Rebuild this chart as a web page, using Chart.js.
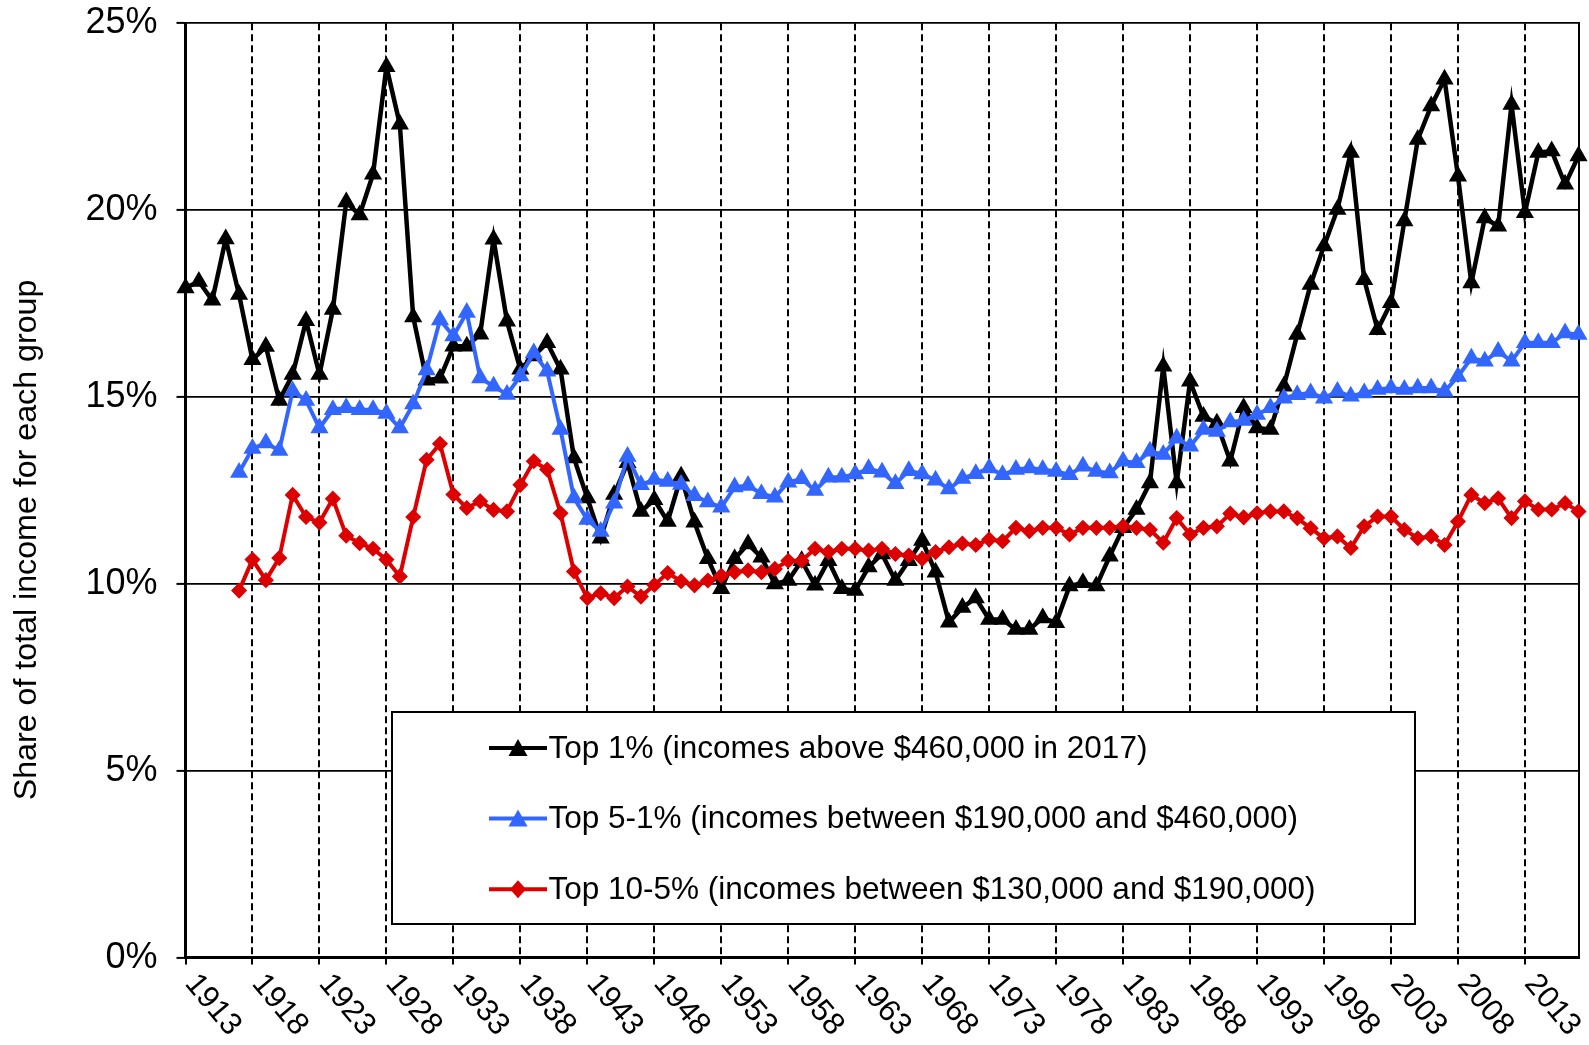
<!DOCTYPE html>
<html>
<head>
<meta charset="utf-8">
<script src="https://cdn.jsdelivr.net/npm/chart.js@4/dist/chart.umd.min.js"></script>
<style>
  html, body { margin: 0; padding: 0; background: #fff; }
  canvas { display: block; }
</style>
</head>
<body>
<canvas id="c" width="1589" height="1045"></canvas>
<script>
// ---------- data ----------
const years = [
  1913,1914,1915,1916,1917,1918,1919,1920,1921,1922,1923,1924,1925,1926,1927,1928,1929,1930,
  1931,1932,1933,1934,1935,1936,1937,1938,1939,1940,1941,1942,1943,1944,1945,1946,1947,1948,
  1949,1950,1951,1952,1953,1954,1955,1956,1957,1958,1959,1960,1961,1962,1963,1964,1965,1966,
  1967,1968,1969,1970,1971,1972,1973,1974,1975,1976,1977,1978,1979,1980,1981,1982,1983,1984,
  1985,1986,1987,1988,1989,1990,1991,1992,1993,1994,1995,1996,1997,1998,1999,2000,2001,2002,
  2003,2004,2005,2006,2007,2008,2009,2010,2011,2012,2013,2014,2015,2016,2017
];

const top1 = [
  17.92,18.09,17.59,19.23,17.74,16.00,16.35,14.91,15.60,17.04,15.60,17.34,20.22,19.87,20.96,23.84,22.30,17.14,
  15.45,15.50,16.36,16.36,16.68,19.22,17.03,15.74,16.10,16.45,15.74,13.37,12.30,11.22,12.39,13.24,11.94,12.25,
  11.67,12.88,11.65,10.67,9.87,10.67,11.07,10.71,10.00,10.09,10.62,9.96,10.62,9.87,9.82,10.45,10.80,10.09,
  10.62,11.16,10.31,8.97,9.37,9.62,9.05,9.05,8.78,8.78,9.09,8.96,9.94,10.03,9.94,10.74,11.50,11.99,
  12.70,15.82,12.70,15.42,14.48,14.30,13.28,14.71,14.17,14.13,15.29,16.67,18.01,19.04,20.02,21.54,18.14,16.80,
  17.52,19.71,21.89,22.79,23.50,20.91,18.05,19.79,19.57,22.83,19.93,21.54,21.58,20.69,21.45
];

const top5to1 = [
  null,null,null,null,12.98,13.62,13.77,13.57,15.16,14.91,14.17,14.66,14.71,14.66,14.66,14.56,14.17,14.81,
  15.72,17.06,16.63,17.26,15.51,15.29,15.07,15.56,16.18,15.69,14.13,12.30,11.72,11.40,12.16,13.41,12.65,12.79,
  12.74,12.66,12.36,12.19,12.05,12.59,12.63,12.41,12.32,12.72,12.81,12.50,12.85,12.85,12.94,13.08,12.99,12.68,
  13.03,12.94,12.77,12.54,12.82,12.95,13.10,12.92,13.06,13.10,13.06,13.01,12.92,13.15,13.01,12.97,13.28,13.24,
  13.55,13.46,13.90,13.68,14.13,14.08,14.33,14.37,14.53,14.71,14.97,15.06,15.11,14.97,15.15,15.02,15.11,15.20,
  15.24,15.20,15.24,15.24,15.15,15.55,16.04,15.96,16.22,15.96,16.45,16.45,16.45,16.71,16.67
];

const top10to5 = [
  null,null,null,null,9.82,10.65,10.10,10.69,12.38,11.79,11.64,12.28,11.29,11.09,10.94,10.65,10.20,11.79,
  13.32,13.75,12.39,12.03,12.21,11.98,11.94,12.65,13.28,13.06,11.89,10.33,9.62,9.75,9.62,9.93,9.66,9.97,
  10.29,10.07,9.96,10.09,10.22,10.31,10.36,10.31,10.40,10.62,10.62,10.94,10.85,10.94,10.94,10.89,10.94,10.80,
  10.76,10.67,10.85,10.98,11.08,11.04,11.19,11.14,11.50,11.41,11.50,11.50,11.32,11.50,11.50,11.50,11.54,11.50,
  11.45,11.10,11.76,11.32,11.50,11.54,11.88,11.78,11.89,11.94,11.94,11.76,11.49,11.22,11.27,10.96,11.54,11.80,
  11.80,11.45,11.22,11.27,11.04,11.67,12.38,12.16,12.29,11.76,12.21,11.99,11.99,12.16,11.94
];

const tickYears = [1913,1918,1923,1928,1933,1938,1943,1948,1953,1958,1963,1968,1973,1978,1983,1988,1993,1998,2003,2008,2013];
const yTicks = [0,5,10,15,20,25];
const seriesLabels = [
  'Top 1% (incomes above $460,000 in 2017)',
  'Top 5-1% (incomes between $190,000 and $460,000)',
  'Top 10-5% (incomes between $130,000 and $190,000)'
];
const yTitle = 'Share of total income for each group';

// ---------- styles ----------
const FONT = '"Liberation Sans", Arial, Helvetica, sans-serif';
const BLACK = '#000000';
const BLUE = '#3366FF';
const RED = '#DD0000';

const overlay = {
  id: 'overlay',
  beforeDraw(chart) {
    const ctx = chart.ctx;
    ctx.save();
    ctx.fillStyle = '#fff';
    ctx.fillRect(0, 0, chart.width, chart.height);
    ctx.restore();
  },
  afterDraw(chart) {
    const {ctx, chartArea, scales} = chart;
    const xs = scales.x;
    ctx.save();
    // rotated x tick labels
    ctx.fillStyle = '#000';
    ctx.font = '31px ' + FONT;
    ctx.textAlign = 'left';
    ctx.textBaseline = 'middle';
    tickYears.forEach(v => {
      const px = xs.getPixelForValue(v);
      ctx.save();
      ctx.translate(px + 5, chartArea.bottom + 21);
      ctx.rotate(50 * Math.PI / 180);
      ctx.fillText(String(v), 0, 0);
      ctx.restore();
    });
    // y axis title
    ctx.save();
    ctx.translate(27, 540);
    ctx.rotate(-Math.PI / 2);
    ctx.textAlign = 'center';
    ctx.textBaseline = 'middle';
    ctx.font = '32.2px ' + FONT;
    ctx.fillText(yTitle, 0, 0);
    ctx.restore();

    // legend box
    const L = 392, T = 712, R = 1415, B = 924;
    ctx.fillStyle = '#fff';
    ctx.fillRect(L, T, R - L, B - T);
    ctx.strokeStyle = '#000';
    ctx.lineWidth = 2;
    ctx.strokeRect(L, T, R - L, B - T);

    chart.data.datasets.forEach((ds, i) => {
      const cy = 748 + i * 70.6;
      ctx.strokeStyle = ds.borderColor;
      ctx.lineWidth = 4;
      ctx.beginPath();
      ctx.moveTo(489, cy);
      ctx.lineTo(547, cy);
      ctx.stroke();
      ctx.fillStyle = ds.backgroundColor;
      ctx.beginPath();
      const mx = 518;
      if (ds.pointStyle === 'triangle') {
        ctx.moveTo(mx, cy - 9);
        ctx.lineTo(mx + 9.5, cy + 8);
        ctx.lineTo(mx - 9.5, cy + 8);
      } else {
        ctx.moveTo(mx, cy - 9);
        ctx.lineTo(mx + 8, cy);
        ctx.lineTo(mx, cy + 9);
        ctx.lineTo(mx - 8, cy);
      }
      ctx.closePath();
      ctx.fill();
      ctx.fillStyle = '#000';
      ctx.font = '31.5px ' + FONT;
      ctx.textAlign = 'left';
      ctx.textBaseline = 'middle';
      ctx.fillText(ds.label, 548.5, cy + 1);
    });
    ctx.restore();
  }
};

new Chart(document.getElementById('c').getContext('2d'), {
  type: 'line',
  data: {
    labels: years,
    datasets: [
      {
        label: seriesLabels[0], data: top1,
        borderColor: BLACK, backgroundColor: BLACK,
        borderWidth: 4.5, pointStyle: 'triangle', pointRadius: 9, pointBorderWidth: 1.5,
        pointBackgroundColor: BLACK, pointBorderColor: BLACK,
        tension: 0, order: 3, clip: false
      },
      {
        label: seriesLabels[1], data: top5to1,
        borderColor: BLUE, backgroundColor: BLUE,
        borderWidth: 4, pointStyle: 'triangle', pointRadius: 9, pointBorderWidth: 1.5,
        pointBackgroundColor: BLUE, pointBorderColor: BLUE,
        tension: 0, order: 2, clip: false
      },
      {
        label: seriesLabels[2], data: top10to5,
        borderColor: RED, backgroundColor: RED,
        borderWidth: 4, pointStyle: 'rectRot', pointRadius: 7, pointBorderWidth: 1.5,
        pointBackgroundColor: RED, pointBorderColor: RED,
        tension: 0, order: 1, clip: false
      }
    ]
  },
  options: {
    responsive: false,
    animation: false,
    devicePixelRatio: 1,
    layout: { padding: { top: 23.3, right: 0, bottom: 0, left: 0 } },
    plugins: { legend: { display: false }, tooltip: { enabled: false }, title: { display: false } },
    scales: {
      x: {
        type: 'linear',
        min: 1913, max: 2017,
        afterBuildTicks: s => { s.ticks = tickYears.map(v => ({ value: v })); },
        afterFit: s => { s.height = 87.4; s.paddingLeft = 0; s.paddingRight = 0; },
        ticks: { display: false },
        grid: {
          color: c => (c.tick && c.tick.value === tickYears[0]) ? 'rgba(0,0,0,0)' : '#000',
          lineWidth: 2, tickLength: 7, tickColor: '#000', tickWidth: 2, drawOnChartArea: true
        },
        border: { display: true, color: '#000', width: 3, dash: [7, 4] }
      },
      y: {
        type: 'linear',
        min: 0, max: 25,
        afterBuildTicks: s => { s.ticks = yTicks.map(v => ({ value: v })); },
        afterFit: s => { s.width = 185.5; s.paddingTop = 0; s.paddingBottom = 0; },
        ticks: {
          callback: v => v + '%',
          color: '#000',
          font: { family: FONT, size: 36 },
          padding: 19
        },
        grid: { color: '#000', lineWidth: 1.8, tickLength: 9, tickColor: '#000', tickWidth: 2 },
        border: { display: true, color: '#000', width: 3 }
      },
      y2: {
        type: 'linear',
        position: 'right',
        display: true,
        afterFit: s => { s.width = 10; s.paddingTop = 0; s.paddingBottom = 0; },
        ticks: { display: false },
        grid: { display: false },
        border: { display: true, color: '#000', width: 2 }
      }
    }
  },
  plugins: [overlay]
});
</script>
</body>
</html>
